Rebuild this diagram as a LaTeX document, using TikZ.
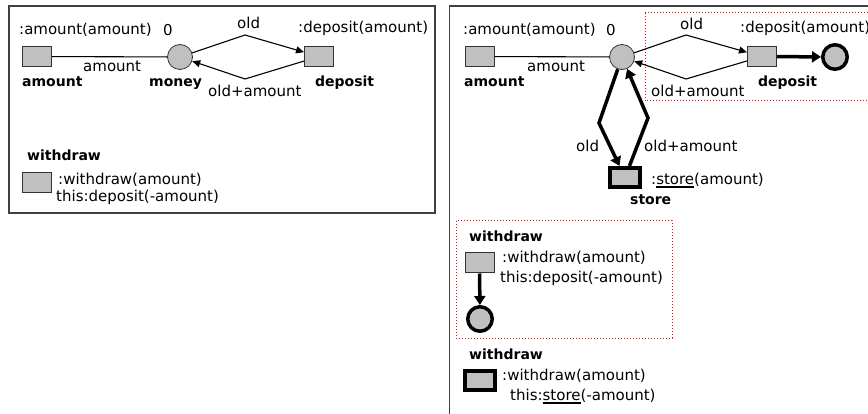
\documentclass[tikz,border=0pt]{standalone}
\usepackage{fontspec}
\setmainfont{DejaVu Sans}
\usetikzlibrary{arrows.meta}
\newcommand\thul[1]{\setbox0\hbox{#1}\rlap{\rule[-3.5pt]{\wd0}{2pt}}\box0}
\definecolor{gfill}{HTML}{C0C0C0}
\definecolor{gline}{HTML}{333333}
\tikzset{
  lbl/.style={font=\fontsize{15}{18}\selectfont, inner sep=0pt, anchor=base west},
  blbl/.style={font=\fontsize{14}{17}\selectfont\bfseries, inner sep=0pt, anchor=base west},
  trans/.style={draw=gline, fill=gfill, minimum width=29pt, minimum height=20pt, inner sep=0pt, line width=1pt},
  ttrans/.style={draw=black, fill=gfill, minimum width=30pt, minimum height=19pt, inner sep=0pt, line width=4pt},
  place/.style={circle, draw=gline, fill=gfill, minimum size=25pt, inner sep=0pt, line width=0.8pt},
  tplace/.style={circle, draw=black, fill=gfill, minimum size=24.5pt, inner sep=0pt, line width=3.5pt},
  arc/.style={line width=1.1pt, -{Triangle[length=8pt,width=7pt]}},
  plainarc/.style={line width=1.1pt},
  tarc/.style={line width=3.5pt, -{Triangle[length=9pt,width=11pt]}},
  frame/.style={draw=black!75, line width=1.3pt},
  redbox/.style={draw=red, dotted, line width=1pt}
}
\begin{document}
\begin{tikzpicture}[x=1pt,y=-1pt]
\useasboundingbox (0,0) rectangle (868,414);
\fill[white] (0,0) rectangle (868,414);
\clip (0,0) rectangle (868,414);

% ---------------- left panel ----------------
\draw[frame] (9,6) rectangle (435,213);

\node[trans] (amt) at (37,56.5) {};
\node[place] (money) at (180,57) {};
\node[trans] (dep) at (319,56.5) {};
\node[trans] (wd) at (37,182.5) {};

\node[lbl] (amtsig) at (19,35) {:amount(amount)};
\node[lbl] (zero) at (163,36) {0};
\node[lbl] (depsig) at (298,33) {:deposit(amount)};
\node[lbl] (amtarc) at (83,72) {amount};
\node[blbl] (amtname) at (22,87) {amount};
\node[blbl] (moneyname) at (149,87) {money};
\node[blbl] (depname) at (315,87) {deposit};
\node[lbl] (oldl) at (237,29) {old};
\node[lbl] (oldamt) at (208,97) {old+amount};
\node[blbl] (wdname) at (27,161) {withdraw};
\node[lbl] (wdsig) at (58,185) {:withdraw(amount)};
\node[lbl] (wdbody) at (56,202) {this:deposit(-amount)};

\draw[plainarc] (amt) -- (money);
\draw[arc] (money) -- (245,35) -- (dep);
\draw[arc] (dep) -- (245,79) -- (money);

% ---------------- right panel ----------------
\draw[frame] (449.5,420) -- (449.5,6) -- (875,6);
\draw[redbox] (645,13) rectangle (880,101);
\draw[redbox] (456,221) rectangle (672,338);

\node[trans] (amt2) at (479.5,56.5) {};
\node[place] (money2) at (622,57) {};
\node[trans] (dep2) at (762,56.5) {};
\node[tplace] (out1) at (835,57) {};
\node[ttrans] (store) at (625,177.5) {};
\node[trans] (wd2) at (479.5,263) {};
\node[tplace] (out2) at (480,319) {};
\node[ttrans] (wd3) at (479.5,380.5) {};

\node[lbl] (amtsig2) at (463,35) {:amount(amount)};
\node[lbl] (zero2) at (606,36) {0};
\node[lbl] (depsig2) at (740,33) {:deposit(amount)};
\node[lbl] (amtarc2) at (527,72) {amount};
\node[blbl] (amtname2) at (464,87) {amount};
\node[blbl] (depname2) at (758,87) {deposit};
\node[lbl] (oldl2) at (680,30) {old};
\node[lbl] (oldamt2) at (651,97) {old+amount};
\node[lbl] (oldl3) at (576,152) {old};
\node[lbl] (oldamt3) at (644,152) {old+amount};
\node[lbl] (storesig) at (651,185) {:\thul{store}(amount)};
\node[blbl] (storename) at (630,205) {store};
\node[blbl] (wdname2) at (469,242) {withdraw};
\node[lbl] (wdsig2) at (502,263) {:withdraw(amount)};
\node[lbl] (wdbody2) at (500,283) {this:deposit(-amount)};
\node[blbl] (wdname3) at (469,359) {withdraw};
\node[lbl] (wdsig3) at (502,380) {:withdraw(amount)};
\node[lbl] (wdbody3) at (510,400) {this:\thul{store}(-amount)};

\draw[plainarc] (amt2) -- (money2);
\draw[arc] (money2) -- (686,35) -- (dep2);
\draw[arc] (dep2) -- (686,79) -- (money2);
\draw[tarc] (dep2) -- (out1);
\draw[tarc] (money2) -- (599,123) -- (store);
\draw[tarc] (store) -- (648,118) -- (money2);
\draw[tarc] (wd2) -- (out2);
\end{tikzpicture}
\end{document}
